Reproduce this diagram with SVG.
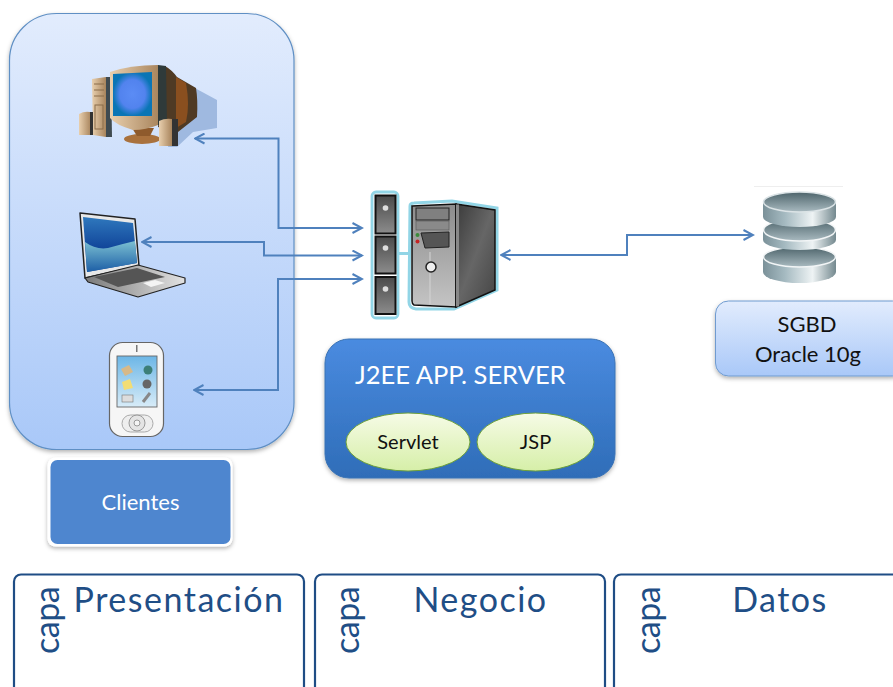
<svg xmlns="http://www.w3.org/2000/svg" width="893" height="687" viewBox="0 0 893 687">
<defs>
<linearGradient id="pane" x1="0" y1="0" x2="0" y2="1"><stop offset="0" stop-color="#e2ecfd"/><stop offset="1" stop-color="#a9c8f8"/></linearGradient>
<linearGradient id="blue" x1="0" y1="0" x2="0" y2="1"><stop offset="0" stop-color="#4a8be0"/><stop offset="1" stop-color="#2f6db8"/></linearGradient>
<linearGradient id="oval" x1="0" y1="0" x2="0" y2="1"><stop offset="0" stop-color="#f6fbe6"/><stop offset="1" stop-color="#d6efa8"/></linearGradient>
<linearGradient id="cyl" x1="0" y1="0" x2="1" y2="0"><stop offset="0" stop-color="#7b9199"/><stop offset=".3" stop-color="#a5bac1"/><stop offset=".68" stop-color="#eef3f4"/><stop offset="1" stop-color="#74898f"/></linearGradient>
<linearGradient id="top" x1="0" y1="0" x2="0" y2="1"><stop offset="0" stop-color="#4d646b"/><stop offset="1" stop-color="#a9bac0"/></linearGradient>
<linearGradient id="beige" x1="0" y1="0" x2="1" y2="0"><stop offset="0" stop-color="#e8cfae"/><stop offset="1" stop-color="#a8845c"/></linearGradient>
<linearGradient id="lapscreen" x1="0" y1="0" x2="0" y2="1"><stop offset="0" stop-color="#2f78bd"/><stop offset=".55" stop-color="#12479b"/><stop offset="1" stop-color="#12479b"/></linearGradient>
<linearGradient id="wave" x1="0" y1="0" x2="0" y2="1"><stop offset="0" stop-color="#7cc0d2"/><stop offset="1" stop-color="#1c5ea6"/></linearGradient>
<linearGradient id="key" x1="0" y1="0" x2="1" y2="0"><stop offset="0" stop-color="#7a7a7a"/><stop offset="1" stop-color="#e2e2e2"/></linearGradient>
<linearGradient id="tower" x1="0" y1="0" x2="0" y2="1"><stop offset="0" stop-color="#8c8c8c"/><stop offset="1" stop-color="#c4c4c4"/></linearGradient>
<linearGradient id="side" x1="0" y1="0" x2="1" y2="1"><stop offset="0" stop-color="#3b3b3b"/><stop offset=".5" stop-color="#666"/><stop offset="1" stop-color="#444"/></linearGradient>
<linearGradient id="drive" x1="0" y1="0" x2="0" y2="1"><stop offset="0" stop-color="#4a4a4a"/><stop offset="1" stop-color="#8c8c8c"/></linearGradient>
<radialGradient id="crt"><stop offset="0" stop-color="#5b8cf5"/><stop offset=".65" stop-color="#5283ee"/><stop offset="1" stop-color="#0a75b5"/></radialGradient>
<linearGradient id="sky" x1="0" y1="0" x2="0" y2="1"><stop offset="0" stop-color="#6cb6e6"/><stop offset="1" stop-color="#d8ecf8"/></linearGradient>
<filter id="sh" x="-10%" y="-10%" width="120%" height="125%"><feDropShadow dx="0" dy="2" stdDeviation="2" flood-color="#000" flood-opacity=".3"/></filter>
<marker id="ah" viewBox="0 0 12 12" refX="10.500" refY="6" markerWidth="12" markerHeight="12" markerUnits="userSpaceOnUse" orient="auto-start-reverse"><path d="M1 1 L10.500 6 L1 11" fill="none" stroke="#4f81bd" stroke-width="2"/></marker>
</defs>
<style>
text{font-family:Lato,"Open Sans","Liberation Sans",sans-serif}
.conn{fill:none;stroke:#4f81bd;stroke-width:2}
.capa{fill:#fff;stroke:#1f4d85;stroke-width:2.2}
.capatxt{fill:#1f4e86;font-size:34px}
.drive{fill:url(#drive);stroke:#111;stroke-width:2}
.sp{fill:#333}
</style>
<rect width="893" height="687" fill="#fff"/>

<g id="clientes-panel"><rect x="9.500" y="13.500" width="284.500" height="436" rx="47" fill="url(#pane)" stroke="#5f8fc4" stroke-width="1.200" filter="url(#sh)"/></g>

<g id="desktop">
<path d="M180 80 L217 100 L217 128 L193 132 L177 147 L168 147Z" fill="#9fb9e0"/>
<path d="M92 79 L106 77 L106 137 L93 135Z" fill="url(#beige)"/>
<path d="M106 77 L111 77 L112 137 L106 137Z" fill="#3f4a50"/>
<path d="M94 84 H104 M94 90 H104 M94 96 H104" stroke="#8a6d4a" stroke-width="1"/>
<rect x="95" y="105" width="8" height="24" fill="none" stroke="#8a6d4a" stroke-width="1"/>
<ellipse cx="142" cy="139" rx="18" ry="5" fill="#a9713d"/>
<path d="M132 128 H154 L150 136 H137Z" fill="#8e5a2c"/>
<path d="M165 66 Q172 70 177 77 L196 88 Q198 100 197 117 L178 132 L158 127Z" fill="#4f3a24"/>
<path d="M176 77 L186 83 Q190 105 186 122 L176 128Z" fill="#8a4f1f"/>
<path d="M110 72 Q130 65 158 65 Q161 95 158 125 Q146 130 133 130 Q116 125 110 118Z" fill="url(#beige)"/>
<path d="M158 65 L166 66 L167 127 L158 125Z" fill="#2f3a3a"/>
<path d="M113 74 L152 72 V116 H113Z" fill="url(#crt)"/>
<path d="M79 114 Q84 111 90 112 L91 135 H79Z" fill="url(#beige)"/>
<rect class="sp" x="90" y="112" width="3" height="23"/>
<path d="M159 121 Q165 118 172 119 V146 H159Z" fill="url(#beige)"/>
<rect class="sp" x="172" y="119" width="6" height="27"/>
</g>

<g id="laptop">
<path d="M80 213 L135 219 L139 266 L85 278Z" fill="#e8e8e8" stroke="#222" stroke-width="1.500" stroke-linejoin="round"/>
<path d="M83 217 L133 223 L137 263 L87 272Z" fill="url(#lapscreen)"/>
<path d="M85 242 Q96 250 108 248 Q122 244 135 241 L137 263 L87 272Z" fill="url(#wave)"/>
<path d="M85 278 L138 265 L185 278 V283 L138 297 L88 282Z" fill="url(#key)" stroke="#222" stroke-width="1.200" stroke-linejoin="round"/>
<path d="M94 277 L137 268 L165 277 L118 287Z" fill="#555"/>
<path d="M143 283 L155 280 L165 283 L151 287Z" fill="#f4f4f4"/>
</g>

<g id="pda">
<rect x="109.500" y="342.500" width="54" height="94" rx="13" fill="#f6f6f6" stroke="#666" stroke-width="1.200"/>
<rect x="117" y="356" width="40" height="51" fill="url(#sky)" stroke="#666" stroke-width=".9"/>
<path d="M121 369 L129 365 L133 372 L125 376Z" fill="#d7b988"/>
<circle cx="148" cy="370" r="4.500" fill="#3c7f78"/>
<path d="M122 382 L130 379 L133 388 L124 390Z" fill="#f2dd74"/>
<circle cx="147" cy="384" r="4.500" fill="#666"/>
<rect x="122" y="395" width="11" height="7" fill="#ddd" stroke="#777" stroke-width=".6"/>
<path d="M143 402 L150 393" stroke="#888" stroke-width="3"/>
<rect x="122" y="415" width="31" height="17" rx="8.500" fill="#eee" stroke="#aaa"/>
<circle cx="137" cy="423" r="8" fill="#e4e4e4" stroke="#999"/>
<circle cx="137" cy="423" r="3" fill="#f4f4f4" stroke="#999"/>
<rect x="136" y="345" width="1.500" height="7" fill="#777"/>
</g>

<g id="clientes-label">
<rect x="47.500" y="457.500" width="185" height="89" rx="8" fill="#fff" filter="url(#sh)"/>
<rect x="50.500" y="460" width="180" height="84" rx="7" fill="#4e86cf"/>
<text x="140.500" y="509.500" font-size="22" text-anchor="middle" fill="#fff">Clientes</text>
</g>

<g id="server">
<rect x="372" y="192" width="26" height="126" rx="4" fill="#fff" stroke="#92d5e6" stroke-width="2.800"/>
<rect x="398" y="252" width="11" height="3" fill="#92d5e6"/>
<path d="M410 206 Q410 203 414 203 L452 201 L497 208 L497 290 L454 309 L416 309 Q409 308 409 302Z" fill="#fff" stroke="#92d5e6" stroke-width="3"/>
<rect class="drive" x="375.500" y="195.500" width="20" height="38"/>
<rect class="drive" x="375.500" y="236.500" width="20" height="37"/>
<rect class="drive" x="375.500" y="277" width="20" height="37"/>
<circle cx="385.500" cy="208" r="2.800" fill="#ddd"/><circle cx="385.500" cy="248" r="2.800" fill="#ddd"/><circle cx="385.500" cy="289" r="2.800" fill="#ddd"/>
<path d="M412 206 L456 204 L456 307 L414 305 Q412 304 412 301Z" fill="url(#tower)" stroke="#111" stroke-width="1.500"/>
<path d="M456 204 L495 210 L495 290 L456 307Z" fill="url(#side)" stroke="#111" stroke-width="1.500"/>
<rect x="456" y="204.500" width="3" height="102" fill="#888"/>
<rect x="416" y="208" width="33" height="12" fill="#808080" stroke="#222"/>
<rect x="416" y="221" width="33" height="9" fill="#8a8a8a" stroke="#555" stroke-width=".6"/>
<path d="M421 233 L449 232 L449 247 L425 248Z" fill="#555" stroke="#222"/>
<circle cx="417.500" cy="235" r="2" fill="#3b8a3b"/><circle cx="417.500" cy="241.500" r="2" fill="#c42424"/>
<path d="M430 252 V304" stroke="#d4d4d4" stroke-width="1"/>
<circle cx="431" cy="267" r="5" fill="#eee" stroke="#222" stroke-width="1.500"/>
</g>

<g id="db">
<path d="M754 186.500 H843" stroke="#eee" stroke-width="1"/>
<path d="M763 257 H836 V272 A36.500 11 0 0 1 763 272Z" fill="url(#cyl)"/>
<ellipse cx="799.500" cy="257" rx="36" ry="10" fill="url(#top)" stroke="#f2f5f6" stroke-width="1.500"/>
<path d="M763 230 H836 V240 A36.500 10 0 0 1 763 240Z" fill="url(#cyl)"/>
<ellipse cx="799.500" cy="230" rx="36" ry="11" fill="url(#top)" stroke="#f2f5f6" stroke-width="1.500"/>
<path d="M763 202 H836 V217 A36.500 10 0 0 1 763 217Z" fill="url(#cyl)"/>
<ellipse cx="799.500" cy="202" rx="36" ry="10" fill="url(#top)" stroke="#dbe3e6" stroke-width="1.500"/>
</g>

<g id="sgbd">
<rect x="715.500" y="301" width="190" height="75" rx="13" fill="url(#pane)" stroke="#6f9bd0" stroke-width="1" filter="url(#sh)"/>
<text x="807" y="332" font-size="22" text-anchor="middle" fill="#111">SGBD</text>
<text x="808" y="362" font-size="22" text-anchor="middle" fill="#111">Oracle 10g</text>
</g>

<g id="app-server">
<rect x="325" y="339" width="290" height="139" rx="24" fill="url(#blue)" stroke="#3b73b4" stroke-width="1" filter="url(#sh)"/>
<text x="355" y="384" font-size="25.500" fill="#fff">J2EE APP. SERVER</text>
</g>
<g id="servlet"><ellipse cx="408" cy="442" rx="62" ry="29" fill="url(#oval)" stroke="#6da03a" stroke-width="1"/><text x="408" y="449" font-size="20" text-anchor="middle" fill="#111">Servlet</text></g>
<g id="jsp"><ellipse cx="535.500" cy="442" rx="58.500" ry="29" fill="url(#oval)" stroke="#6da03a" stroke-width="1"/><text x="535.500" y="449" font-size="20" text-anchor="middle" fill="#111">JSP</text></g>

<g id="connectors">
<path class="conn" marker-start="url(#ah)" marker-end="url(#ah)" d="M195 138.500 H278.500 V228 H362"/>
<path class="conn" marker-start="url(#ah)" marker-end="url(#ah)" d="M142 242 H264 V255.500 H362"/>
<path class="conn" marker-start="url(#ah)" marker-end="url(#ah)" d="M194 390 H278 V279 H362"/>
<path class="conn" marker-start="url(#ah)" marker-end="url(#ah)" d="M501 255 H627 V235 H753"/>
</g>

<g id="capa-presentacion">
<rect class="capa" x="14" y="574.500" width="290" height="120" rx="7"/>
<text class="capatxt" x="179" y="612" text-anchor="middle" letter-spacing="1.500">Presentación</text>
<text class="capatxt" transform="translate(59,654) rotate(-90)" letter-spacing="-.5">capa</text>
</g>
<g id="capa-negocio">
<rect class="capa" x="315" y="574.500" width="290" height="120" rx="7"/>
<text class="capatxt" x="480.500" y="612" text-anchor="middle" letter-spacing="1.500">Negocio</text>
<text class="capatxt" transform="translate(359,654) rotate(-90)" letter-spacing="-.5">capa</text>
</g>
<g id="capa-datos">
<rect class="capa" x="614" y="574.500" width="300" height="120" rx="7"/>
<text class="capatxt" x="780" y="612" text-anchor="middle" letter-spacing="1.500">Datos</text>
<text class="capatxt" transform="translate(660,654) rotate(-90)" letter-spacing="-.5">capa</text>
</g>
</svg>
